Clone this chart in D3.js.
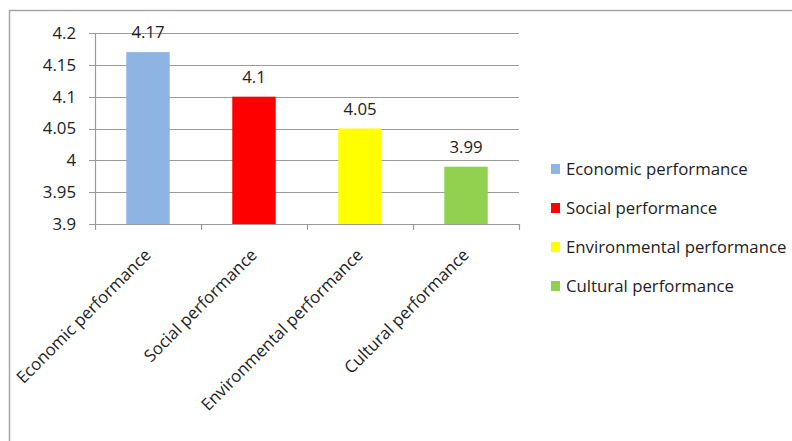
<!DOCTYPE html>
<html>
<head>
<meta charset="utf-8">
<script src="https://cdn.jsdelivr.net/npm/d3@7"></script>
<style>
  body { margin: 0; background: #fff; }
  text { font-family: "Open Sans", "Liberation Sans", sans-serif; fill: #222; }
</style>
</head>
<body>
<svg id="chart" width="792" height="441"></svg>
<script>
// data
var categories = ["Economic performance", "Social performance", "Environmental performance", "Cultural performance"]
var values = [4.17, 4.1, 4.05, 3.99]
var colors = ["#8EB4E3", "#FF0000", "#FFFF00", "#92D050"]
var yTicks = [3.9, 3.95, 4, 4.05, 4.1, 4.15, 4.2]

window.onload = () => {
  draw_chart()
}

function draw_chart(){
  var svg = d3.select("#chart")
  var fs = "16.8px"

  // outer frame (runs off the right and bottom edge)
  svg.append("rect")
    .attr("x", 9.5).attr("y", 10.5)
    .attr("width", 900).attr("height", 600)
    .attr("fill", "none")
    .attr("stroke", "#a6a6a6")
    .attr("stroke-width", 1.5)

  var left = 95, right = 519, top = 33, bottom = 224

  var x = d3.scaleBand()
    .domain(categories)
    .range([left, right])
    .paddingInner(0.59)
    .paddingOuter(0.295)

  var xTick = d3.scaleBand()
    .domain(categories)
    .range([left, right])

  var y = d3.scaleLinear()
    .domain([3.9, 4.2])
    .range([bottom, top])

  // gridlines
  svg.append("g")
    .selectAll("line")
    .data(yTicks)
    .enter()
    .append("line")
      .attr("x1", left - 6)
      .attr("x2", right)
      .attr("y1", function(d){ return Math.round(y(d)) + 0.5 })
      .attr("y2", function(d){ return Math.round(y(d)) + 0.5 })
      .attr("stroke", "#9a9a9a")
      .attr("stroke-width", 1.2)

  // y tick labels
  svg.append("g")
    .selectAll("text")
    .data(yTicks)
    .enter()
    .append("text")
      .attr("x", left - 19)
      .attr("y", function(d){ return y(d) })
      .attr("dy", "0.35em")
      .attr("text-anchor", "end")
      .style("font-size", fs)
      .text(function(d){ return d3.format("")(d) })

  // y axis line
  svg.append("line")
    .attr("x1", left + 0.5).attr("x2", left + 0.5)
    .attr("y1", top).attr("y2", bottom)
    .attr("stroke", "#9a9a9a")
    .attr("stroke-width", 1.2)

  // bars
  svg.append("g")
    .selectAll("rect")
    .data(values)
    .enter()
    .append("rect")
      .attr("x", function(d, i){ return x(categories[i]) })
      .attr("y", function(d){ return y(d) })
      .attr("width", x.bandwidth())
      .attr("height", function(d){ return bottom - y(d) })
      .attr("fill", function(d, i){ return colors[i] })

  // x axis line + ticks
  svg.append("line")
    .attr("x1", left).attr("x2", right)
    .attr("y1", bottom + 0.5).attr("y2", bottom + 0.5)
    .attr("stroke", "#9a9a9a")
    .attr("stroke-width", 1.2)

  var tickPos = categories.map(function(c){ return xTick(c) }).concat([right])
  svg.append("g")
    .selectAll("line")
    .data(tickPos)
    .enter()
    .append("line")
      .attr("x1", function(d){ return Math.round(d) + 0.5 })
      .attr("x2", function(d){ return Math.round(d) + 0.5 })
      .attr("y1", bottom)
      .attr("y2", bottom + 6)
      .attr("stroke", "#9a9a9a")
      .attr("stroke-width", 1.2)

  // value labels
  svg.append("g")
    .selectAll("text")
    .data(values)
    .enter()
    .append("text")
      .attr("x", function(d, i){ return x(categories[i]) + x.bandwidth() / 2 })
      .attr("y", function(d){ return y(d) - 14 })
      .attr("text-anchor", "middle")
      .style("font-size", fs)
      .text(function(d){ return d })

  // category labels, rotated
  svg.append("g")
    .selectAll("text")
    .data(categories)
    .enter()
    .append("text")
      .attr("transform", function(d){
        var cx = xTick(d) + xTick.bandwidth() / 2
        return "translate(" + (cx + 4) + "," + (bottom + 32) + ") rotate(-45)"
      })
      .attr("text-anchor", "end")
      .style("font-size", fs)
      .text(function(d){ return d })

  // legend
  var legend = svg.append("g")
    .selectAll("g")
    .data(categories)
    .enter()
    .append("g")
      .attr("transform", function(d, i){ return "translate(551," + (169 + i * 39) + ")" })

  legend.append("rect")
    .attr("x", 0).attr("y", -5)
    .attr("width", 9).attr("height", 10)
    .attr("fill", function(d, i){ return colors[i] })

  legend.append("text")
    .attr("x", 15)
    .attr("y", 0)
    .attr("dy", "0.35em")
    .style("font-size", fs)
    .text(function(d){ return d })
}
</script>
</body>
</html>
